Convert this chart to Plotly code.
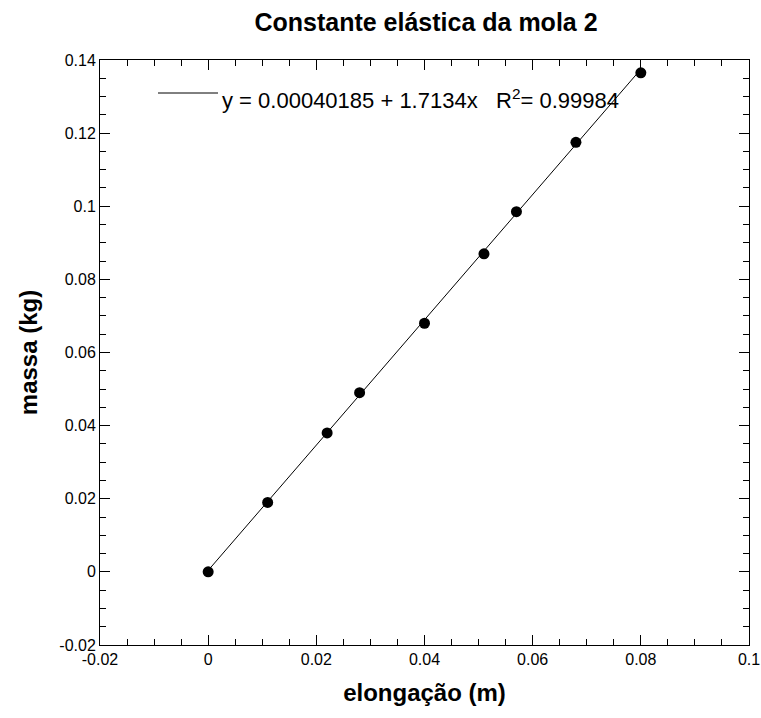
import plotly.graph_objects as go

# data
elongacao = [0, 0.011, 0.022, 0.028, 0.04, 0.051, 0.057, 0.068, 0.08]
massa = [0, 0.019, 0.038, 0.049, 0.068, 0.087, 0.0985, 0.1175, 0.1365]

# linear fit coefficients shown on the chart
fit_a = 0.00040185
fit_b = 1.7134
fit_r2 = 0.99984
fit_x = [0, 0.08]
fit_y = [fit_a + fit_b * v for v in fit_x]

x_tickvals = [-0.02, 0, 0.02, 0.04, 0.06, 0.08, 0.1]
x_ticktext = ["-0.02", "0", "0.02", "0.04", "0.06", "0.08", "0.1"]
y_tickvals = [-0.02, 0, 0.02, 0.04, 0.06, 0.08, 0.1, 0.12, 0.14]
y_ticktext = ["-0.02", "0", "0.02", "0.04", "0.06", "0.08", "0.1", "0.12", "0.14"]

FONT = "Liberation Sans, Arial, Helvetica, sans-serif"
PW = 761 - 100 - 12  # plot width in px
PH = 718 - 60 - 73   # plot height in px

fig = go.Figure()
fig.add_trace(go.Scatter(x=fit_x, y=fit_y, mode="lines",
                         line=dict(color="black", width=1), showlegend=False,
                         hoverinfo="skip"))
fig.add_trace(go.Scatter(x=elongacao, y=massa, mode="markers",
                         marker=dict(color="black", size=11), showlegend=False))

axis_common = dict(
    showgrid=False, zeroline=False, showline=True, linecolor="black", linewidth=1,
    mirror="allticks", ticks="inside", ticklen=10, tickwidth=1, tickcolor="black",
    tickfont=dict(family=FONT, size=16, color="black"),
    ticklabeloverflow="allow", automargin=False,
)

fig.update_xaxes(range=[-0.0200001, 0.1000001], tickmode="array", tickvals=x_tickvals,
                 ticktext=x_ticktext,
                 minor=dict(ticks="inside", ticklen=6, dtick=0.005, tickcolor="black"),
                 title=dict(text="<b>elongação (m)</b>", font=dict(family=FONT, size=24, color="black"), standoff=16),
                 **axis_common)
fig.update_yaxes(range=[-0.0200001, 0.1400001], tickmode="array", tickvals=y_tickvals,
                 ticktext=y_ticktext,
                 minor=dict(ticks="inside", ticklen=6, dtick=0.005, tickcolor="black"),
                 title=dict(text="<b>massa (kg)</b>", font=dict(family=FONT, size=24, color="black"), standoff=14),
                 **axis_common)

# legend-like fit label
fig.add_shape(type="line", xref="paper", yref="paper", x0=58 / PW, x1=118 / PW,
              y0=(PH - 33) / PH, y1=(PH - 33) / PH, line=dict(color="black", width=1))
fig.add_annotation(xref="paper", yref="paper", x=120 / PW, y=(PH - 39) / PH,
                   xanchor="left", yanchor="middle", showarrow=False,
                   text=f"y = {fit_a:.8f} + {fit_b}x   R<sup>2</sup>= {fit_r2}",
                   font=dict(family=FONT, size=22, color="black"))

fig.update_layout(
    width=761, height=718,
    margin=dict(l=100, r=12, t=60, b=73),
    paper_bgcolor="white", plot_bgcolor="white",
    title=dict(text="<b>Constante elástica da mola 2</b>", x=426 / 761, xanchor="center",
               y=1 - 22 / 718, yanchor="middle",
               font=dict(family=FONT, size=25, color="black")),
)

fig.write_html("out.html")
